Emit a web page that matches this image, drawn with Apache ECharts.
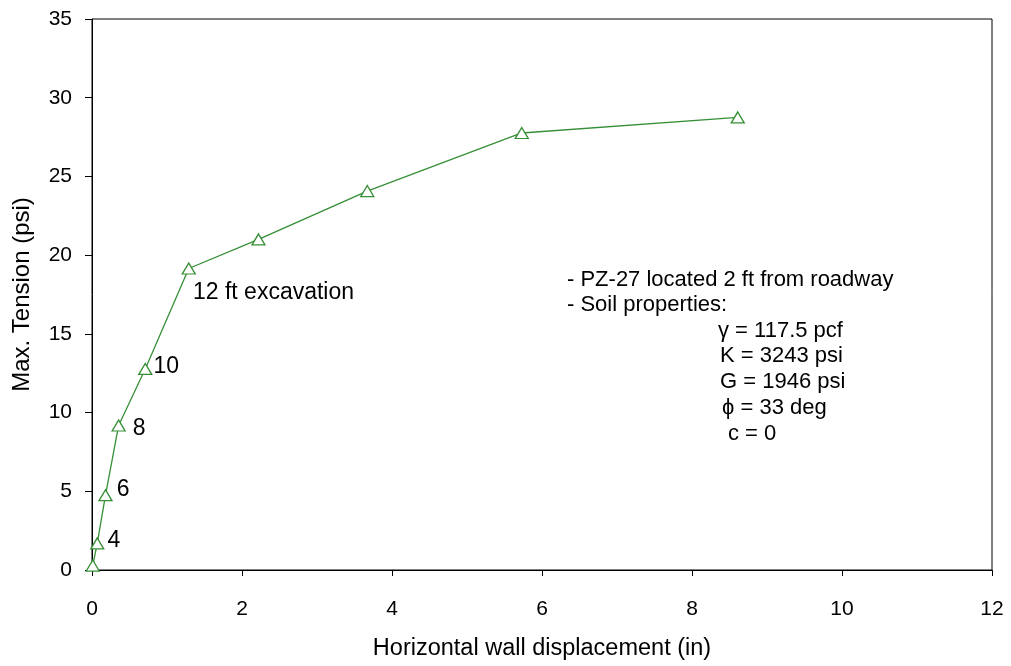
<!DOCTYPE html>
<html>
<head>
<meta charset="utf-8">
<script src="https://cdn.jsdelivr.net/npm/echarts@6/dist/echarts.min.js"></script>
<style>
html,body{margin:0;padding:0;background:#fff;}
#chart{width:1011px;height:666px;}
</style>
</head>
<body>
<div id="chart"></div>
<script>
// Data
const displacement = [0.01, 0.07, 0.18, 0.355, 0.71, 1.29, 2.22, 3.67, 5.73, 8.61];
const tension = [0.28, 1.69, 4.75, 9.18, 12.77, 19.15, 21.0, 24.07, 27.76, 28.75];
const pointLabels = ["", "4", "6", "8", "10", "12 ft excavation", "", "", "", ""];
const xTicks = [0, 2, 4, 6, 8, 10, 12];
const yTicks = [0, 5, 10, 15, 20, 25, 30, 35];
const noteLines = [
  "- PZ-27 located 2 ft from roadway",
  "- Soil properties:",
  "\u03b3 = 117.5 pcf",
  "K = 3243 psi",
  "G = 1946 psi",
  "\u03d5 = 33 deg",
  "c = 0"
];

// Label placement styles (kept separate from data)
const labelOffsets = [[-2,-3],[-2,-3],[-1,-6],[2,3],[-4,-2],[-8,24],[0,0],[0,0],[0,0],[0,0]];
const noteX = [567, 567, 718, 720, 720, 722, 728];
const noteY = [280, 305, 331, 356, 382, 408, 434];

const FONT = "Liberation Sans, Arial, sans-serif";
const GREEN = "#368f36";

const data = displacement.map((x, i) => ({
  value: [x, tension[i]],
  label: {
    show: pointLabels[i] !== "",
    formatter: pointLabels[i],
    position: 'right',
    offset: labelOffsets[i],
    color: '#000',
    fontSize: 23,
    fontFamily: FONT
  }
}));

const chart = echarts.init(document.getElementById('chart'));
chart.setOption({
  animation: false,
  backgroundColor: '#fff',
  grid: {
    left: 92, top: 19, right: 19, bottom: 94,
    show: true, borderColor: '#000', borderWidth: 1, backgroundColor: 'transparent'
  },
  xAxis: {
    type: 'value', min: 0, max: 12, interval: 2,
    name: 'Horizontal wall displacement (in)',
    nameLocation: 'middle', nameGap: 67,
    nameTextStyle: { color: '#000', fontSize: 23.5, fontFamily: FONT },
    axisLine: { show: true, onZero: false, lineStyle: { color: '#000', width: 1 } },
    axisTick: { show: true, inside: false, length: 6, lineStyle: { color: '#000' } },
    axisLabel: { color: '#000', fontSize: 21, fontFamily: FONT, margin: 29,
      formatter: v => xTicks.includes(v) ? String(v) : '' },
    splitLine: { show: false }
  },
  yAxis: {
    type: 'value', min: 0, max: 35, interval: 5,
    name: 'Max. Tension (psi)',
    nameLocation: 'middle', nameGap: 58, nameRotate: 90,
    nameTextStyle: { color: '#000', fontSize: 24, fontFamily: FONT },
    axisLine: { show: true, onZero: false, lineStyle: { color: '#000', width: 1 } },
    axisTick: { show: true, inside: false, length: 7, lineStyle: { color: '#000' } },
    axisLabel: { color: '#000', fontSize: 21, fontFamily: FONT, margin: 20,
      formatter: v => yTicks.includes(v) ? String(v) : '' },
    splitLine: { show: false }
  },
  series: [{
    type: 'line',
    data: data,
    symbol: 'triangle',
    symbolSize: [13, 11],
    showAllSymbol: true,
    lineStyle: { color: GREEN, width: 1.3 },
    itemStyle: { color: '#fff', borderColor: GREEN, borderWidth: 1.3 },
    z: 3
  }],
  graphic: noteLines.map((t, i) => ({
    type: 'text',
    x: noteX[i],
    y: noteY[i],
    style: { text: t, fill: '#000', fontSize: 22, fontFamily: FONT, align: 'left', verticalAlign: 'middle' }
  }))
});
</script>
</body>
</html>
